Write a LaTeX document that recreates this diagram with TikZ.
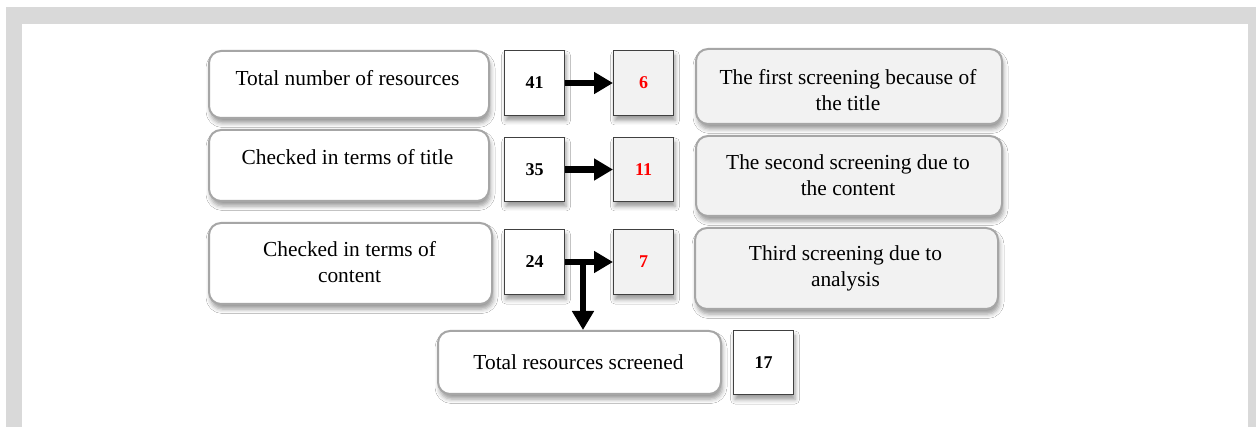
\documentclass[tikz,border=0pt]{standalone}
\usepackage{fontspec}
\setmainfont[Ligatures=TeX]{Liberation Serif}
\usetikzlibrary{shadows.blur,arrows.meta}
\definecolor{framegray}{HTML}{D9D9D9}
\definecolor{boxgray}{HTML}{F2F2F2}
\definecolor{edgegray}{HTML}{A6A6A6}
\definecolor{numred}{HTML}{FF0000}
\tikzset{
  softshadow/.style={blur shadow={shadow xshift=1.5pt, shadow yshift=-5pt, shadow blur radius=4.5pt, shadow opacity=40}},
  lbox/.style={draw=edgegray, line width=2pt, rounded corners=12pt, fill=white, anchor=north west, inner sep=0pt, softshadow},
  rbox/.style={lbox, fill=boxgray},
  nbox/.style={draw=black!75, line width=1pt, anchor=north west, fill=white, inner sep=0pt, softshadow, font=\bfseries\fontsize{18}{20}\selectfont},
  rnbox/.style={nbox, fill=boxgray, text=numred},
  txt/.style={font=\fontsize{21.4}{26}\selectfont, align=center, inner sep=0pt},
  flow/.style={line width=6.5pt, -{Triangle[length=19pt,width=21pt]}}
}
\begin{document}
\begin{tikzpicture}[x=1pt,y=-1pt]
\useasboundingbox (0,0) rectangle (1256,427);
\fill[framegray] (6,7) rectangle (1256,427);
\fill[white] (22,24) rectangle (1248,427);

% left boxes
\node[lbox, minimum width=280pt, minimum height=67pt] (L1) at (208,50) {};
\node[txt] (L1t) at (347.5,78) {Total number of resources};
\node[lbox, minimum width=280pt, minimum height=71pt] (L2) at (208,129) {};
\node[txt] (L2t) at (347.5,157) {Checked in terms of title};
\node[lbox, minimum width=283pt, minimum height=81pt] (L3) at (208,222) {};
\node[txt] (L3t) at (349.5,262) {Checked in terms of\\content};

% number boxes
\node[nbox, minimum width=60pt, minimum height=65pt] (n41) at (504,50) {41};
\node[rnbox, minimum width=60pt, minimum height=65pt] (n6) at (613,50) {6};
\node[nbox, minimum width=60pt, minimum height=64pt] (n35) at (504,137) {35};
\node[rnbox, minimum width=60pt, minimum height=64pt] (n11) at (613,137) {11};
\node[nbox, minimum width=60pt, minimum height=65pt] (n24) at (504,229) {24};
\node[rnbox, minimum width=60pt, minimum height=65pt] (n7) at (613,229) {7};

% right boxes
\node[rbox, minimum width=306pt, minimum height=75pt] (R1) at (695,48) {};
\node[txt] (R1t) at (848,90) {The first screening because of\\the title};
\node[rbox, minimum width=306pt, minimum height=80pt] (R2) at (695,135) {};
\node[txt] (R2t) at (848,175.5) {The second screening due to\\the content};
\node[rbox, minimum width=303pt, minimum height=81pt] (R3) at (694,227) {};
\node[txt] (R3t) at (845.5,268.5) {Third screening due to\\analysis};

% bottom
\node[lbox, minimum width=283pt, minimum height=63pt] (B) at (437,330) {};
\node[txt] (Bt) at (578.5,362) {Total resources screened};
\node[nbox, minimum width=60pt, minimum height=64pt] (n17) at (733,330) {17};

% arrows
\draw[flow] (n41.east) -- (n6.west);
\draw[flow] (n35.east) -- (n11.west);
\draw[flow] (n24.east) -- (n7.west);
\coordinate (J) at (583,262);
\draw[flow] (J) -- (J |- B.north);
\end{tikzpicture}
\end{document}
